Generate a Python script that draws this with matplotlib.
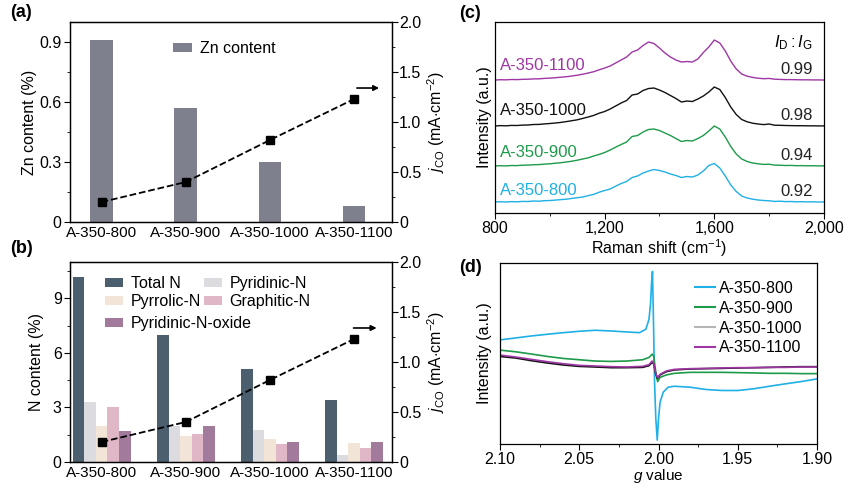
import numpy as np
import matplotlib
matplotlib.use("Agg")
import matplotlib.pyplot as plt
from matplotlib.lines import Line2D

plt.rcParams["font.family"] = ["Liberation Sans", "DejaVu Sans"]
plt.rcParams["font.size"] = 11.5
plt.rcParams["axes.linewidth"] = 0.9
plt.rcParams["mathtext.fontset"] = "custom"
plt.rcParams["mathtext.rm"] = "Liberation Sans"
plt.rcParams["mathtext.it"] = "Liberation Sans:italic"

samples = ["A-350-800", "A-350-900", "A-350-1000", "A-350-1100"]

# (a)
zn_content = [0.91, 0.57, 0.30, 0.08]
j_co = [0.20, 0.40, 0.82, 1.23]

# (b)
total_n = [10.2, 7.0, 5.1, 3.4]
pyridinic_n = [3.3, 2.0, 1.75, 0.4]
pyrrolic_n = [2.0, 1.45, 1.25, 1.05]
graphitic_n = [3.05, 1.55, 1.0, 0.75]
pyridinic_n_oxide = [1.7, 2.0, 1.1, 1.1]

# (c) Raman, heights above each curve's own baseline
raman_shift = list(range(800, 2001, 20))
raman_800 = [0.0, 0.3, 0.0, 0.4, 0.2, 0.6, 0.5, 1.0, 0.8, 1.3, 1.5, 1.9, 2.4, 2.8, 3.6, 4.3,
             5.0, 6.4, 7.6, 9.8, 11.5, 13.0, 15.8, 18.5, 20.5, 24.5, 26.0, 29.0, 31.0, 32.5,
             31.5, 30.0, 28.0, 26.5, 24.5, 25.5, 25.0, 27.0, 31.0, 36.5, 38.5, 34.0, 26.0,
             17.0, 10.5, 6.0, 4.0, 2.8, 2.0, 1.5, 1.2, 0.6, 0.8, 0.4, 0.5, 0.2, 0.3, 0.1,
             0.2, 0.0, 0.1]
raman_900 = [0.0, 0.3, 0.1, 0.5, 0.4, 0.8, 0.9, 1.3, 1.4, 1.9, 2.2, 2.8, 3.3, 4.0, 4.8, 5.8,
             7.0, 8.2, 10.0, 11.6, 13.5, 16.0, 18.8, 21.5, 24.0, 29.5, 30.5, 34.0, 36.5, 37.0,
             35.5, 33.0, 30.5, 27.5, 24.5, 25.5, 25.0, 27.5, 30.5, 35.0, 40.0, 37.0, 29.0,
             19.5, 12.0, 7.0, 4.5, 3.0, 2.2, 1.6, 1.8, 0.9, 0.8, 0.5, 0.6, 0.3, 0.4, 0.2,
             0.3, 0.1, 0.2]
raman_1000 = [0.0, 0.4, 0.2, 0.6, 0.5, 0.9, 1.0, 1.5, 1.6, 2.1, 2.5, 3.0, 3.6, 4.4, 5.3, 6.2,
              7.6, 9.0, 10.6, 12.8, 14.5, 17.0, 20.0, 23.0, 25.5, 31.0, 32.0, 35.5, 37.5, 38.0,
              36.0, 33.5, 30.5, 27.5, 24.0, 25.0, 24.5, 27.0, 30.0, 34.0, 39.0, 36.5, 28.5,
              19.0, 11.5, 6.5, 4.2, 2.8, 2.0, 1.4, 2.0, 0.8, 0.7, 0.5, 0.4, 0.3, 0.3, 0.2,
              0.2, 0.1, 0.1]
raman_1100 = [0.0, 0.3, 0.2, 0.5, 0.4, 0.7, 0.8, 1.1, 1.2, 1.6, 1.9, 2.3, 2.8, 3.3, 4.0, 4.8,
              5.8, 7.0, 8.3, 10.2, 12.0, 14.0, 17.0, 20.0, 23.0, 28.0, 30.0, 34.5, 38.0, 36.5,
              32.0, 27.0, 23.0, 20.0, 18.0, 18.5, 18.0, 21.0, 27.5, 33.0, 40.0, 37.0, 29.0,
              19.0, 11.0, 6.0, 3.8, 2.6, 1.8, 1.3, 1.6, 0.8, 0.6, 0.4, 0.4, 0.3, 0.2, 0.2,
              0.1, 0.1, 0.0]
id_ig = ["0.92", "0.94", "0.98", "0.99"]

# (d) EPR
g_800 = [2.100, 2.090, 2.080, 2.070, 2.060, 2.050, 2.040, 2.030, 2.020, 2.012, 2.008, 2.006,
         2.005, 2.0044, 2.0038, 2.0032, 2.0025, 2.0017, 2.0008, 2.000, 1.999, 1.997, 1.994,
         1.990, 1.980, 1.970, 1.960, 1.950, 1.940, 1.930, 1.920, 1.910, 1.900]
epr_800 = [105, 107, 109, 110.7, 112.3, 113.7, 114.7, 114, 113, 112.3, 115.7, 125.7,
           142.3, 162.3, 174, 125.7, 62.3, 25.7, 4, 25.7, 42.3, 52.3, 57.3,
           58.3, 57.3, 55, 54, 54, 55.7, 58.3, 60.7, 63, 65.7]
g_other = [2.100, 2.090, 2.080, 2.070, 2.060, 2.050, 2.040, 2.030, 2.020, 2.010, 2.006, 2.004,
           2.003, 2.002, 2.001, 2.0005, 1.999, 1.995, 1.990, 1.980, 1.970, 1.960, 1.950,
           1.940, 1.930, 1.920, 1.910, 1.900]
epr_900 = [94.7, 93, 90.7, 88.3, 86.3, 85, 83.7, 83.3, 83.7, 85, 87.3, 90.7,
           88.3, 75.7, 65.7, 63, 67.3, 69.7, 71.3, 72.3, 72.3, 72.3, 72,
           71.7, 71.3, 71.3, 71, 71]
epr_1000 = [88.3, 86.7, 84, 81.7, 79.7, 78.3, 77.7, 77, 77, 77.3, 79, 82.3,
            80.7, 72.3, 67.3, 66.3, 69.7, 73, 74.7, 75.7, 76, 76.3, 76.7,
            77, 77.3, 77.7, 78, 78]
epr_1100 = [89.7, 87.7, 85.3, 83, 81, 79.3, 78.7, 78, 77.7, 78.3, 80, 83.7,
            81.3, 73, 68.3, 67, 70.3, 73.7, 75.3, 76, 76.3, 76.7, 77,
            77, 77.3, 77.3, 77.7, 77.7]

c_blue = "#1fb0e6"
c_green = "#1d9a4a"
c_black = "#111111"
c_purple = "#9e37a3"
jlabel = r"$j_{\rm CO}$ (mA$\cdot$cm$^{-2}$)"

fig = plt.figure(figsize=(8.45, 4.84), dpi=100)
ax_a = fig.add_axes([0.0828, 0.5413, 0.3811, 0.4132])
ax_b = fig.add_axes([0.0828, 0.0455, 0.3811, 0.4132])
ax_c = fig.add_axes([0.5858, 0.5599, 0.3893, 0.3946])
ax_d = fig.add_axes([0.5917, 0.0825, 0.3752, 0.3741])

x = np.arange(len(samples))


def style_twin(ax, tw):
    ax.set_xlim(-0.377, 3.45)
    ax.set_xticks(x)
    ax.set_xticklabels(samples, fontsize=11)
    ax.tick_params(axis="x", length=0, pad=3)
    ax.tick_params(axis="y", which="both", direction="out", pad=2)
    ax.tick_params(axis="y", which="major", length=4)
    ax.tick_params(axis="y", which="minor", length=2.5)
    tw.set_ylim(0, 2.0)
    tw.set_yticks([0, 0.5, 1.0, 1.5, 2.0])
    tw.set_yticklabels(["0", "0.5", "1.0", "1.5", "2.0"])
    tw.set_yticks([0.25, 0.75, 1.25, 1.75], minor=True)
    tw.tick_params(axis="y", which="both", direction="out", pad=1)
    tw.tick_params(axis="y", which="major", length=4)
    tw.tick_params(axis="y", which="minor", length=2.5)
    tw.set_ylabel(jlabel, labelpad=3)


# (a)
ax_a.bar(x, zn_content, width=0.27, color="#7e818d", label="Zn content")
ax_a.set_ylim(0, 1.0)
ax_a.set_yticks([0, 0.3, 0.6, 0.9])
ax_a.set_yticklabels(["0", "0.3", "0.6", "0.9"])
ax_a.set_yticks([0.15, 0.45, 0.75], minor=True)
ax_a.set_ylabel("Zn content (%)", labelpad=2)
tw_a = ax_a.twinx()
tw_a.plot(x, j_co, "k--", marker="s", markersize=6, linewidth=1.3)
style_twin(ax_a, tw_a)
tw_a.annotate("", xy=(3.33, 1.34), xytext=(3.0, 1.34),
              arrowprops=dict(arrowstyle="-|>", color="k", lw=1.2, mutation_scale=8))
ax_a.legend(loc="upper left", bbox_to_anchor=(0.275, 0.975), frameon=False,
            handlelength=1.2, handleheight=0.5, handletextpad=0.5)
fig.text(0.012, 0.975, "(a)", fontsize=13, fontweight="bold", va="center")

# (b)
bw = 0.137
series_b = [
    (total_n, "#4b5f6e", "Total N"),
    (pyridinic_n, "#dcdce0", "Pyridinic-N"),
    (pyrrolic_n, "#f2e4d6", "Pyrrolic-N"),
    (graphitic_n, "#e0b7c6", "Graphitic-N"),
    (pyridinic_n_oxide, "#a27a9c", "Pyridinic-N-oxide"),
]
handles = {}
for i, (vals, col, lab) in enumerate(series_b):
    handles[lab] = ax_b.bar(x + (i - 2) * bw, vals, width=bw, color=col, label=lab)
ax_b.set_ylim(0, 11)
ax_b.set_yticks([0, 3, 6, 9])
ax_b.set_yticks([1.5, 4.5, 7.5, 10.5], minor=True)
ax_b.set_ylabel("N content (%)", labelpad=6)
tw_b = ax_b.twinx()
tw_b.plot(x, j_co, "k--", marker="s", markersize=6, linewidth=1.3)
style_twin(ax_b, tw_b)
tw_b.annotate("", xy=(3.3, 1.34), xytext=(2.96, 1.34),
              arrowprops=dict(arrowstyle="-|>", color="k", lw=1.2, mutation_scale=8))
order = ["Total N", "Pyrrolic-N", "Pyridinic-N", "Graphitic-N"]
leg1 = ax_b.legend([handles[k] for k in order], order, ncol=2, loc="upper left",
                   bbox_to_anchor=(0.064, 1.0), frameon=False, handlelength=1.1,
                   handleheight=0.5, handletextpad=0.5, columnspacing=0.2, labelspacing=0.15)
ax_b.add_artist(leg1)
ax_b.legend([handles["Pyridinic-N-oxide"]], ["Pyridinic-N-oxide"], loc="upper left",
            bbox_to_anchor=(0.064, 0.80), frameon=False, handlelength=1.1,
            handleheight=0.5, handletextpad=0.5)
fig.text(0.012, 0.487, "(b)", fontsize=13, fontweight="bold", va="center")

# (c)
raman = [(raman_800, 11, c_blue, samples[0]),
         (raman_900, 47, c_green, samples[1]),
         (raman_1000, 87, c_black, samples[2]),
         (raman_1100, 133, c_purple, samples[3])]
label_y = [23, 61, 103, 148]
ratio_y = [22, 58, 98, 144]
for (vals, base, col, lab), ly, ry, r in zip(raman, label_y, ratio_y, id_ig):
    ax_c.plot(raman_shift, np.array(vals) + base, color=col, linewidth=1.0)
    ax_c.text(818, ly, lab, color=col, fontsize=12, va="center", ha="left")
    ax_c.text(1960, ry, r, color="#222222", fontsize=12, va="center", ha="right")
ax_c.text(1960, 170, r"$I_{\rm D}:I_{\rm G}$", fontsize=12, va="center", ha="right")
ax_c.set_xlim(800, 2000)
ax_c.set_ylim(0, 191)
ax_c.set_yticks([])
ax_c.set_xticks([800, 1200, 1600, 2000])
ax_c.set_xticklabels(["800", "1,200", "1,600", "2,000"])
ax_c.set_xticks([1000, 1400, 1800], minor=True)
ax_c.tick_params(axis="x", which="both", direction="out", pad=2)
ax_c.tick_params(axis="x", which="major", length=4)
ax_c.tick_params(axis="x", which="minor", length=2.5)
ax_c.set_xlabel("Raman shift (cm$^{-1}$)", labelpad=1)
ax_c.set_ylabel("Intensity (a.u.)", labelpad=2)
fig.text(0.543, 0.972, "(c)", fontsize=13, fontweight="bold", va="center")

# (d)
ax_d.plot(g_800, epr_800, color=c_blue, linewidth=1.2)
ax_d.plot(g_other, epr_900, color=c_green, linewidth=1.2)
ax_d.plot(g_other, epr_1000, color=c_black, linewidth=1.2)
ax_d.plot(g_other, epr_1100, color=c_purple, linewidth=1.2)
ax_d.set_xlim(2.10, 1.90)
ax_d.set_ylim(0, 182.5)
ax_d.set_yticks([])
ax_d.set_xticks([2.10, 2.05, 2.00, 1.95, 1.90])
ax_d.set_xticklabels(["2.10", "2.05", "2.00", "1.95", "1.90"])
ax_d.set_xticks([2.075, 2.025, 1.975, 1.925], minor=True)
ax_d.tick_params(axis="x", which="both", direction="out", pad=2)
ax_d.tick_params(axis="x", which="major", length=4)
ax_d.tick_params(axis="x", which="minor", length=2.5)
ax_d.set_xlabel(r"$g$ value", labelpad=0, fontsize=11)
ax_d.set_ylabel("Intensity (a.u.)", labelpad=6)
leg_handles = [Line2D([], [], color=c_blue, lw=1.5),
               Line2D([], [], color=c_green, lw=1.5),
               Line2D([], [], color="#b5b5b5", lw=1.5),
               Line2D([], [], color=c_purple, lw=1.5)]
ax_d.legend(leg_handles, samples, loc="upper right", bbox_to_anchor=(0.998, 0.98),
            frameon=False, handlelength=1.25, handletextpad=0.25, labelspacing=0.3)
fig.text(0.543, 0.447, "(d)", fontsize=13, fontweight="bold", va="center")

fig.savefig("out.png", dpi=100)
